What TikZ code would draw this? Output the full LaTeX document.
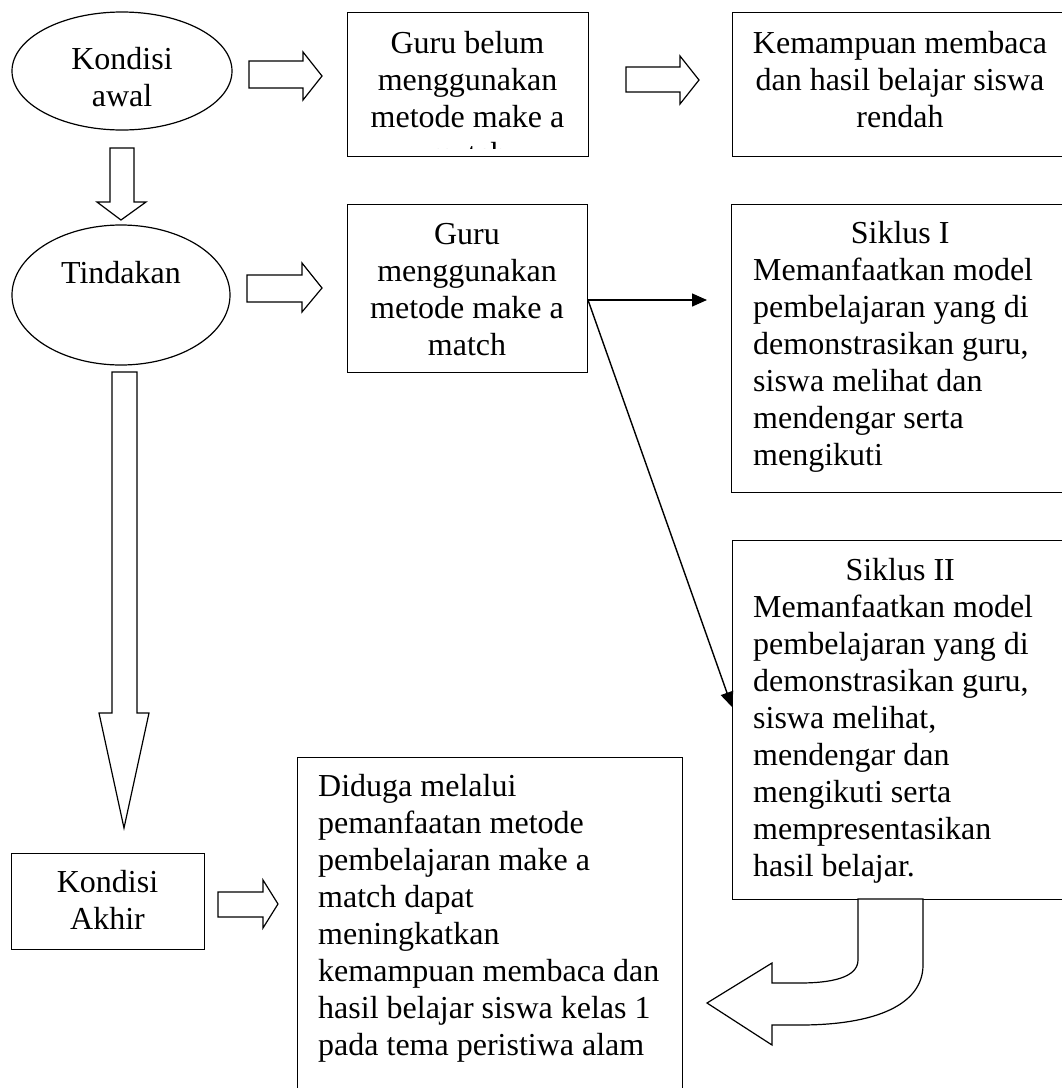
\documentclass[tikz,border=0pt]{standalone}
\usepackage{fontspec}
\setmainfont{Liberation Serif}
\usetikzlibrary{shapes.geometric,arrows.meta}
\tikzset{
  boxst/.style={draw, line width=1.2pt, rectangle, inner sep=0pt, anchor=north west},
  ellst/.style={draw, line width=1.2pt, ellipse, inner sep=0pt},
  txt/.style={inner sep=0pt, font=\fontsize{32}{37}\selectfont, align=center, anchor=north},
  txtl/.style={inner sep=0pt, font=\fontsize{32}{37}\selectfont, align=left, anchor=north west},
  blockarrow/.style={draw, line width=1.2pt, fill=white, line join=miter},
  conn/.style={line width=1.4pt, -{Triangle[length=15pt,width=13pt]}}
}
\begin{document}
\begin{tikzpicture}[x=1pt,y=-1pt]
\useasboundingbox (0,0) rectangle (1062,1088);
% ellipses
\node[ellst, minimum width=220pt, minimum height=118pt] (e1) at (122,71) {};
\node[txt] (e1t) at (122,43.1) {\strut Kondisi\\awal};
\node[ellst, minimum width=218pt, minimum height=140pt] (e2) at (121,295) {};
\node[txt] (e2t) at (121,257.1) {\strut Tindakan};
% boxes
\node[boxst, minimum width=241pt, minimum height=144pt] (b1) at (347,12) {};
\begin{scope}
\clip (347,12) rectangle (588,148);
\node[txt] (b1t) at (467.5,27.1) {\strut Guru belum\\menggunakan\\metode make a\\match};
\end{scope}
\node[boxst, minimum width=338pt, minimum height=144pt] (b2) at (732,12) {};
\node[txt] (b2t) at (900,27.1) {\strut Kemampuan membaca\\dan hasil belajar siswa\\rendah};
\node[boxst, minimum width=240pt, minimum height=168pt] (b3) at (347,204) {};
\node[txt] (b3t) at (467,218.1) {\strut Guru\\menggunakan\\metode make a\\match};
\node[boxst, minimum width=339pt, minimum height=288pt] (s1) at (731,204) {};
\node[txtl] (s1t) at (753,217.1) {\strut\makebox[294pt]{Siklus I}\\Memanfaatkan model\\pembelajaran yang di\\demonstrasikan guru,\\siswa melihat dan\\mendengar serta\\mengikuti};
\node[boxst, minimum width=338pt, minimum height=359pt] (s2) at (732,540) {};
\node[txtl] (s2t) at (753,554.1) {\strut\makebox[294pt]{Siklus II}\\Memanfaatkan model\\pembelajaran yang di\\demonstrasikan guru,\\siswa melihat,\\mendengar dan\\mengikuti serta\\mempresentasikan\\hasil belajar.};
\node[boxst, minimum width=193pt, minimum height=96pt] (ka) at (11,853) {};
\node[txt] (kat) at (107.5,866.1) {\strut Kondisi\\Akhir};
\node[boxst, minimum width=385pt, minimum height=338pt] (d) at (297,757) {};
\node[txtl] (dt) at (318,770.1) {\strut Diduga melalui\\pemanfaatan metode\\pembelajaran make a\\match dapat\\meningkatkan\\kemampuan membaca dan\\hasil belajar siswa kelas 1\\pada tema peristiwa alam};
% block arrows
\draw[blockarrow] (249,61) -- (303,61) -- (303,52) -- (322,76) -- (303,100) -- (303,88) -- (249,88) -- cycle;
\draw[blockarrow] (626,67) -- (680,67) -- (680,56) -- (699,80) -- (680,104) -- (680,92) -- (626,92) -- cycle;
\draw[blockarrow] (247,275) -- (302,275) -- (302,263) -- (322,288) -- (302,312) -- (302,302) -- (247,302) -- cycle;
\draw[blockarrow] (218,892) -- (263,892) -- (263,880) -- (278,904) -- (263,928) -- (263,917) -- (218,917) -- cycle;
\draw[blockarrow] (110,148) -- (134,148) -- (134,202) -- (146,202) -- (121,220) -- (97,202) -- (110,202) -- cycle;
\draw[blockarrow] (112,372) -- (137,372) -- (137,713) -- (149,713) -- (124,828) -- (99,713) -- (112,713) -- cycle;
\draw[blockarrow] (858,899) -- (858,960) .. controls (858,978) and (830,983) .. (800,983) -- (772,983) -- (772,963) -- (707,1003) -- (772,1045) -- (772,1025) -- (800,1025) .. controls (875,1025) and (923,1005) .. (923,965) -- (923,899) -- cycle;
% connectors
\coordinate (b3out) at (588,300);
\coordinate (s1in) at (707,300);
\coordinate (s2in) at (732,707);
\draw[conn] (b3out) -- (s1in);
\draw[conn] (b3out) -- (s2in);
\end{tikzpicture}
\end{document}
